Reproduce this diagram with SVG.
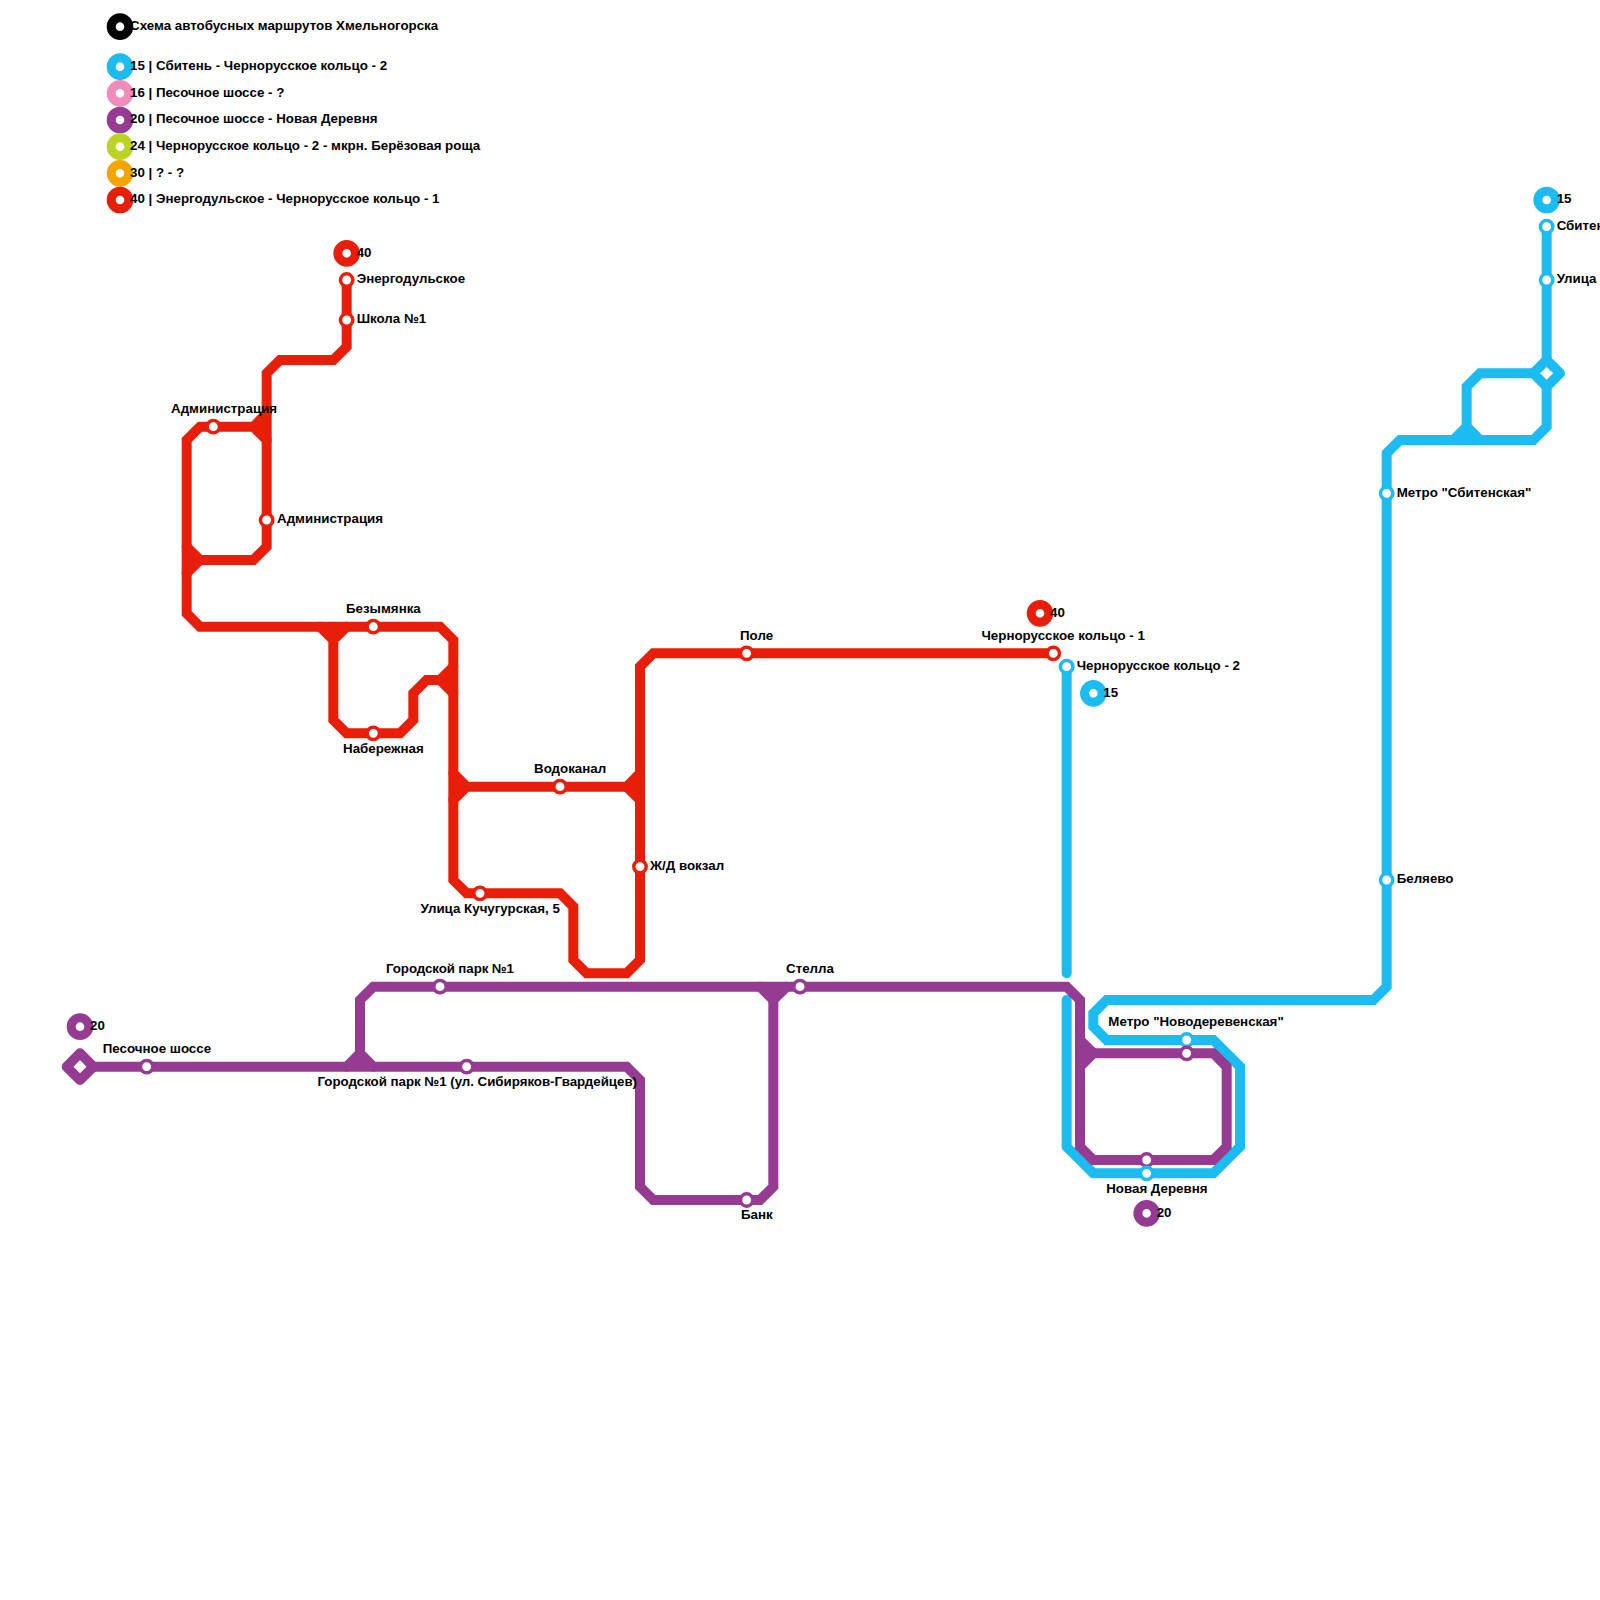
<svg xmlns="http://www.w3.org/2000/svg" width="1600" height="1600" viewBox="0 0 1600 1600">
<style>
text{font-family:"Liberation Sans",Arial,sans-serif;font-weight:700;font-size:13.33px;fill:#000}
.l{fill:none;stroke-width:10;stroke-linejoin:miter;stroke-linecap:round}
.r{stroke:#e61e0a}.b{stroke:#1cbcf0}.p{stroke:#953b91}
.wr{fill:#e61e0a}.wb{fill:#1cbcf0}.wp{fill:#953b91}
.s{fill:#fff;stroke-width:3.5}
.t{fill:#fff;stroke-width:9}
.d{fill:#fff}
</style>
<rect width="1600" height="1600" fill="#fff"/>
<g id="connectors">
<g id="line-15">
<path class="l b" d="M1066.67 666.67V973.33"/>
<path class="l b" d="M1066.67 1000V1146.67L1093.33 1173.33H1213.33L1240 1146.67V1066.67L1213.33 1040H1106.67L1093.33 1026.67V1013.33L1106.67 1000H1373.33L1386.67 986.67V453.33L1400 440H1533.33L1546.67 426.67V226.67"/>
<path class="l b" d="M1453.33 440L1466.67 426.67L1480 440M1466.67 426.67V386.67L1480 373.33H1533.33"/>
<path class="wb" d="M1453.33 440L1466.67 426.67L1480 440Z"/>
<path class="l b" style="stroke-linejoin:round" d="M1533.33 373.33L1546.67 360L1560 373.33L1546.67 386.67Z"/>
</g>
<g id="line-20">
<path class="l p" style="stroke-linejoin:round" d="M66.67 1066.67L80 1053.33L93.33 1066.67L80 1080Z"/>
<path class="l p" d="M93.33 1066.67H626.67L640 1080V1186.67L653.33 1200H760L773.33 1186.67V1000"/>
<path class="l p" d="M346.67 1066.67L360 1053.33L373.33 1066.67M360 1053.33V1000L373.33 986.67H1066.67L1080 1000V1146.67L1093.33 1160H1213.33L1226.67 1146.67V1066.67L1213.33 1053.33H1093.33"/>
<path class="wp" d="M346.67 1066.67L360 1053.33L373.33 1066.67Z"/>
<path class="l p" d="M760 986.67L773.33 1000L786.67 986.67"/>
<path class="wp" d="M760 986.67L773.33 1000L786.67 986.67Z"/>
<path class="l p" d="M1080 1040L1093.33 1053.33L1080 1066.67"/>
<path class="wp" d="M1080 1040L1093.33 1053.33L1080 1066.67Z"/>
</g>
<g id="line-40">
<path class="l r" d="M346.67 280V346.67L333.33 360H280L266.67 373.33V546.67L253.33 560H200"/>
<path class="l r" d="M266.67 413.33L253.33 426.67L266.67 440M253.33 426.67H200L186.67 440V613.33L200 626.67H440L453.33 640V880L466.67 893.33H560L573.33 906.67V960L586.67 973.33H626.67L640 960V666.67L653.33 653.33H1053.33"/>
<path class="wr" d="M266.67 413.33L253.33 426.67L266.67 440Z"/>
<path class="l r" d="M186.67 546.67L200 560L186.67 573.33"/>
<path class="wr" d="M186.67 546.67L200 560L186.67 573.33Z"/>
<path class="l r" d="M320 626.67L333.33 640L346.67 626.67M333.33 640V720L346.67 733.33H400L413.33 720V693.33L426.67 680H440"/>
<path class="wr" d="M320 626.67L333.33 640L346.67 626.67Z"/>
<path class="l r" d="M453.33 666.67L440 680L453.33 693.33"/>
<path class="wr" d="M453.33 666.67L440 680L453.33 693.33Z"/>
<path class="l r" d="M453.33 773.33L466.67 786.67L453.33 800M466.67 786.67H626.67"/>
<path class="wr" d="M453.33 773.33L466.67 786.67L453.33 800Z"/>
<path class="l r" d="M640 773.33L626.67 786.67L640 800"/>
<path class="wr" d="M640 773.33L626.67 786.67L640 800Z"/>
</g>
<path class="d" d="M1546.67 367L1553 373.33L1546.67 379.67L1540.33 373.33ZM80 1060.33L86.33 1066.67L80 1073L73.67 1066.67Z"/>
</g>
<g id="legend">
<g id="legend-title"><circle class="t" cx="120" cy="26.67" r="8.8" stroke="#000"/><text x="130" y="30">Схема автобусных маршрутов Хмельногорска</text></g>
<g id="legend-15"><circle class="t" cx="120" cy="66.67" r="8.8" stroke="#1cbcf0"/><text x="130" y="70">15 | Сбитень - Чернорусское кольцо - 2</text></g>
<g id="legend-16"><circle class="t" cx="120" cy="93.33" r="8.8" stroke="#f08cbc"/><text x="130" y="96.67">16 | Песочное шоссе - ?</text></g>
<g id="legend-20"><circle class="t" cx="120" cy="120" r="8.8" stroke="#953b91"/><text x="130" y="123.33">20 | Песочное шоссе - Новая Деревня</text></g>
<g id="legend-24"><circle class="t" cx="120" cy="146.67" r="8.8" stroke="#bdd321"/><text x="130" y="150">24 | Чернорусское кольцо - 2 - мкрн. Берёзовая роща</text></g>
<g id="legend-30"><circle class="t" cx="120" cy="173.33" r="8.8" stroke="#f5a500"/><text x="130" y="176.67">30 | ? - ?</text></g>
<g id="legend-40"><circle class="t" cx="120" cy="200" r="8.8" stroke="#e61e0a"/><text x="130" y="203.33">40 | Энергодульское - Чернорусское кольцо - 1</text></g>
</g>
<g id="terminals">
<g id="t40a"><circle class="t" cx="346.67" cy="253.33" r="8.8" stroke="#e61e0a"/><text x="356.67" y="256.67">40</text></g>
<g id="t40b"><circle class="t" cx="1040" cy="613.33" r="8.8" stroke="#e61e0a"/><text x="1050" y="616.67">40</text></g>
<g id="t15a"><circle class="t" cx="1546.67" cy="200" r="8.8" stroke="#1cbcf0"/><text x="1556.67" y="203.33">15</text></g>
<g id="t15b"><circle class="t" cx="1093.33" cy="693.33" r="8.8" stroke="#1cbcf0"/><text x="1103.33" y="696.67">15</text></g>
<g id="t20a"><circle class="t" cx="80" cy="1026.67" r="8.8" stroke="#953b91"/><text x="90" y="1030">20</text></g>
<g id="t20b"><circle class="t" cx="1146.67" cy="1213.33" r="8.8" stroke="#953b91"/><text x="1156.67" y="1216.67">20</text></g>
</g>
<g id="stations">
<g id="st-energo"><circle class="s r" cx="346.67" cy="280" r="6.2"/><text x="356.67" y="283.33">Энергодульское</text></g>
<g id="st-school"><circle class="s r" cx="346.67" cy="320" r="6.2"/><text x="356.67" y="323.33">Школа №1</text></g>
<g id="st-admin1"><circle class="s r" cx="213.33" cy="426.67" r="6.2"/><text x="171" y="413">Администрация</text></g>
<g id="st-admin2"><circle class="s r" cx="266.67" cy="520" r="6.2"/><text x="277" y="523">Администрация</text></g>
<g id="st-bez"><circle class="s r" cx="373.33" cy="626.67" r="6.2"/><text x="346" y="613">Безымянка</text></g>
<g id="st-nab"><circle class="s r" cx="373.33" cy="733.33" r="6.2"/><text x="343" y="753">Набережная</text></g>
<g id="st-vod"><circle class="s r" cx="560" cy="786.67" r="6.2"/><text x="534" y="773">Водоканал</text></g>
<g id="st-zd"><circle class="s r" cx="640" cy="866.67" r="6.2"/><text x="650" y="870">Ж/Д вокзал</text></g>
<g id="st-kuch"><circle class="s r" cx="480" cy="893.33" r="6.2"/><text x="420.5" y="913">Улица Кучугурская, 5</text></g>
<g id="st-pole"><circle class="s r" cx="746.67" cy="653.33" r="6.2"/><text x="740" y="640">Поле</text></g>
<g id="st-ch1"><circle class="s r" cx="1053.33" cy="653.33" r="6.2"/><text x="981.5" y="640">Чернорусское кольцо - 1</text></g>
<g id="st-ch2"><circle class="s b" cx="1066.67" cy="666.67" r="6.2"/><text x="1076.67" y="670">Чернорусское кольцо - 2</text></g>
<g id="st-sb"><circle class="s b" cx="1546.67" cy="226.67" r="6.2"/><text x="1556.67" y="230">Сбитень</text></g>
<g id="st-ul"><circle class="s b" cx="1546.67" cy="280" r="6.2"/><text x="1556.67" y="283.33">Улица</text></g>
<g id="st-msb"><circle class="s b" cx="1386.67" cy="493.33" r="6.2"/><text x="1396.67" y="496.67">Метро "Сбитенская"</text></g>
<g id="st-bel"><circle class="s b" cx="1386.67" cy="880" r="6.2"/><text x="1396.67" y="883.33">Беляево</text></g>
<g id="st-mnd"><circle class="s b" cx="1186.67" cy="1040" r="6.2"/><circle class="s p" cx="1186.67" cy="1053.33" r="6.2"/><text x="1108.3" y="1026">Метро "Новодеревенская"</text></g>
<g id="st-nd"><circle class="s p" cx="1146.67" cy="1160" r="6.2"/><circle class="s b" cx="1146.67" cy="1173.33" r="6.2"/><text x="1106.2" y="1193">Новая Деревня</text></g>
<g id="st-pes"><circle class="s p" cx="146.67" cy="1066.67" r="6.2"/><text x="102.7" y="1053">Песочное шоссе</text></g>
<g id="st-gp"><circle class="s p" cx="440" cy="986.67" r="6.2"/><text x="386" y="973" textLength="128" lengthAdjust="spacing">Городской парк №1</text></g>
<g id="st-gp2"><circle class="s p" cx="466.67" cy="1066.67" r="6.2"/><text x="317.5" y="1086" textLength="319.5" lengthAdjust="spacing">Городской парк №1 (ул. Сибиряков-Гвардейцев)</text></g>
<g id="st-st"><circle class="s p" cx="800" cy="986.67" r="6.2"/><text x="786" y="973">Стелла</text></g>
<g id="st-bank"><circle class="s p" cx="746.67" cy="1200" r="6.2"/><text x="741" y="1219">Банк</text></g>
</g>
</svg>
